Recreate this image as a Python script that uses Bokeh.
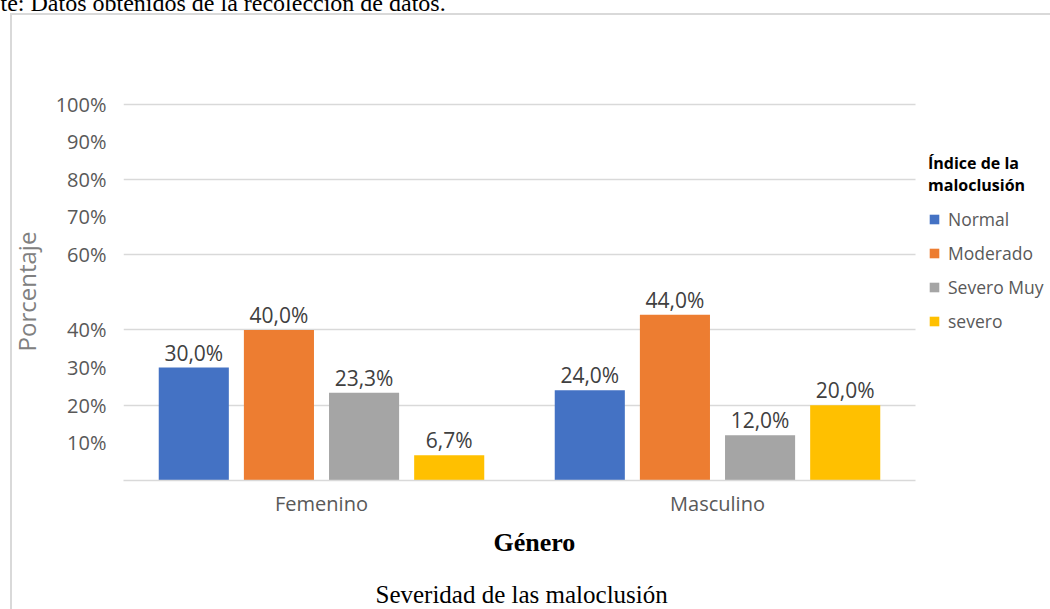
from bokeh.plotting import figure
from bokeh.models import (Range1d, FixedTicker, PrintfTickFormatter, Grid,
                          ColumnDataSource, LabelSet, Legend, LegendItem, Title,
                          InlineStyleSheet)
from bokeh.core.properties import value
from bokeh.embed import file_html
from bokeh.resources import INLINE

# ---- data ----
generos = ["Femenino", "Masculino"]
series = ["Normal", "Moderado", "Severo Muy", "severo"]
normal = [30.0, 24.0]
moderado = [40.0, 44.0]
severo_muy = [23.3, 12.0]
severo = [6.7, 20.0]
y_ticks = [10, 20, 30, 40, 60, 70, 80, 90, 100]
grid_ticks = [20, 40, 60, 80, 100]

# ---- style ----
colores = ["#4472C4", "#ED7D31", "#A5A5A5", "#FFC000"]
offsets = [-0.3225, -0.1075, 0.1075, 0.3225]
bar_w = 0.177
FONT = "Open Sans"
SERIF = "Liberation Serif"

# category positions 1..n on a numeric axis; the frame continues to the right
# so that the legend (drawn inside the frame) is not clipped
cat_pos = [i + 1 for i in range(len(generos))]
x_start, x_end = 0.5, 0.5 + 925 / 396.0

p = figure(width=1050, height=609,
           x_range=Range1d(x_start, x_end), y_range=Range1d(0, 100.4),
           output_backend="svg", toolbar_location=None,
           min_border_left=123, min_border_right=2,
           min_border_top=102, min_border_bottom=129)
p.outline_line_color = None
p.background_fill_color = "white"
p.border_fill_color = "white"
p.xgrid.visible = False

if "cross_bounds" in Grid.properties():
    p.ygrid.ticker = FixedTicker(ticks=grid_ticks)
    p.ygrid.cross_bounds = (0.5, len(generos) + 0.5)
    p.ygrid.grid_line_color = "#d9d9d9"
    p.ygrid.grid_line_width = 1.5
else:
    p.ygrid.visible = False
    p.segment(x0=[0.5] * len(grid_ticks), x1=[len(generos) + 0.5] * len(grid_ticks),
              y0=grid_ticks, y1=grid_ticks, line_color="#d9d9d9", line_width=1.5,
              level="underlay")

items = []
for name, vals, col, off in zip(series, [normal, moderado, severo_muy, severo], colores, offsets):
    src = ColumnDataSource(dict(x=[c + off for c in cat_pos], v=vals,
                                t=[("%.1f" % v).replace(".", ",") + "%" for v in vals]))
    r = p.vbar(x="x", top="v", width=bar_w, source=src, fill_color=col, line_color=None)
    p.add_layout(LabelSet(x="x", y="v", text="t", source=src,
                          text_align="center", text_baseline="bottom", y_offset=1,
                          text_font=value(FONT), text_font_size="21px",
                          text_color="#404040"))
    items.append(LegendItem(label=name, renderers=[r]))

# axes
xa = p.xaxis[0]
xa.ticker = FixedTicker(ticks=cat_pos)
xa.major_label_overrides = {c: g for c, g in zip(cat_pos, generos)}
xa.bounds = (0.5, len(generos) + 0.5)
xa.axis_line_color = "#d9d9d9"
xa.axis_line_width = 1.5
xa.major_tick_line_color = None
xa.minor_tick_line_color = None
xa.major_tick_out = 0
xa.major_label_text_font = FONT
xa.major_label_text_font_size = "20px"
xa.major_label_text_color = "#595959"
xa.major_label_standoff = 9

ya = p.yaxis[0]
ya.ticker = FixedTicker(ticks=y_ticks)
ya.formatter = PrintfTickFormatter(format="%d%%")
ya.axis_line_color = None
ya.major_tick_line_color = None
ya.minor_tick_line_color = None
ya.major_tick_out = 0
ya.major_label_text_font = FONT
ya.major_label_text_font_size = "20px"
ya.major_label_text_color = "#595959"
ya.major_label_standoff = 17
ya.axis_label = "Porcentaje"
ya.axis_label_text_font = FONT
ya.axis_label_text_font_size = "24px"
ya.axis_label_text_font_style = "normal"
ya.axis_label_text_color = "#808080"
ya.axis_label_standoff = 10

# legend at the right, inside the (extended) frame
leg = Legend(items=items, location=(805, 147), orientation="vertical",
             title="Índice de la\nmaloclusión",
             title_text_font=FONT, title_text_font_size="16px",
             title_text_font_style="bold", title_text_color="#000000",
             title_standoff=11,
             glyph_width=12, glyph_height=12, label_height=20, spacing=10,
             label_standoff=8, padding=0, margin=0,
             label_text_font=FONT, label_text_font_size="17.5px",
             label_text_color="#595959",
             background_fill_alpha=0, border_line_color=None)
p.add_layout(leg, "center")

# titles below the x axis (left-aligned with pixel offsets from the frame's left edge)
p.add_layout(Title(text="Género", align="left", offset=370, standoff=12,
                   text_font=SERIF, text_font_size="26px", text_font_style="bold",
                   text_color="#000000"), "below")
p.add_layout(Title(text=" ", standoff=3, text_font_size="10px"), "below")
p.add_layout(Title(text="Severidad de las maloclusión", align="left",
                   offset=252, standoff=0, text_font=SERIF,
                   text_font_size="25px", text_font_style="normal",
                   text_color="#000000"), "below")

# source note at the very top (partly cut off, as in the reference)
p.add_layout(Title(text=" ", standoff=84, text_font_size="10px"), "above")
p.add_layout(Title(text="te: Datos obtenidos de la recolección de datos.", align="left",
                   vertical_align="top", offset=-123, standoff=-24,
                   text_font=SERIF, text_font_size="24px",
                   text_font_style="normal", text_color="#000000"), "above")

# light grey chart border
p.stylesheets = [InlineStyleSheet(css=(
    ":host{position:relative;}"
    ":host::after{content:'';position:absolute;left:10px;top:13px;right:0;bottom:0;"
    "border-left:2px solid #d9d9d9;border-top:2px solid #d9d9d9;pointer-events:none;}"
))]

open("out.html", "w").write(file_html(p, INLINE))
